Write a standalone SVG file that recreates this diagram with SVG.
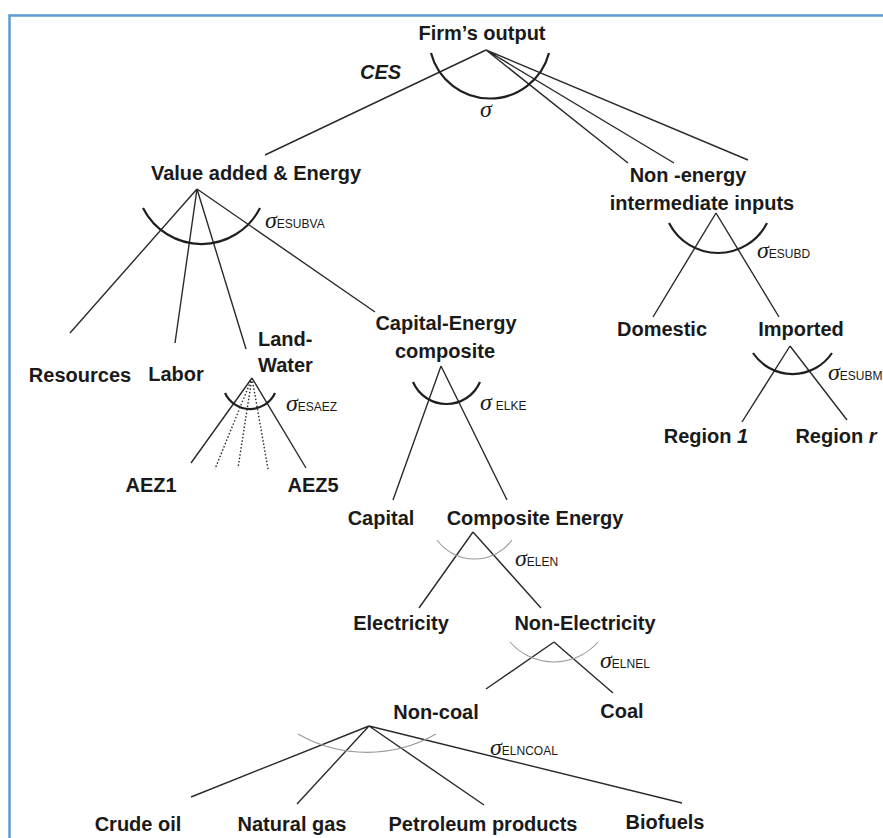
<svg xmlns="http://www.w3.org/2000/svg" width="883" height="838" viewBox="0 0 883 838">
<style>
.lbl{font-family:"Liberation Sans",Arial,sans-serif;font-weight:bold;font-size:20px;fill:#1a1a1a;text-anchor:middle}
.st{font-family:"Liberation Sans",Arial,sans-serif;font-weight:bold;font-size:20px;fill:#1a1a1a}
.sig{font-family:"Liberation Serif","DejaVu Serif",serif;font-style:italic;font-size:24px;fill:#1a1a1a}
.sub{font-family:"Liberation Sans",Arial,sans-serif;font-style:normal;font-size:12px}
.ln{stroke:#2a2a2a;stroke-width:1.4;fill:none}
.dot{stroke:#2a2a2a;stroke-width:1.4;fill:none;stroke-dasharray:1.5 2}
.arc{stroke:#1f1f1f;stroke-width:2.2;fill:none}
.arcg{stroke:#9a9a9a;stroke-width:1.1;fill:none}
</style>
<rect width="883" height="838" fill="#ffffff"/>
<path d="M9.5 838 V15.5 H883" stroke="#5b9bd5" stroke-width="2.5" fill="none"/>

<g id="connectors">
<path class="ln" d="M486 50 L265 155 M486 50 L628 163 M486 50 L674 163 M486 50 L748 160"/>
<path class="ln" d="M197 189 L70 333 M197 189 L175 343 M197 189 L246 349 M197 189 L375 312"/>
<path class="ln" d="M716 213 L653 317 M716 213 L779 317"/>
<path class="ln" d="M790 346 L742 422 M790 346 L847 420"/>
<path class="ln" d="M252 378 L191 463 M252 378 L306 468"/>
<path class="dot" d="M252 378 L215 469 M252 378 L238 468 M252 378 L268 469"/>
<path class="ln" d="M441 366 L393 500 M441 366 L507 500"/>
<path class="ln" d="M473 532 L419 608 M473 532 L541 608"/>
<path class="ln" d="M554 642 L486 689 M554 642 L613 693"/>
<path class="ln" d="M369 726 L191 797 M369 726 L297 804 M369 726 L484 805 M369 726 L682 803"/>
</g>

<g id="firm-output">
<text class="lbl" x="482" y="40">Firm’s output</text>
<text class="st" x="360" y="79" font-style="italic">CES</text>
<path class="arc" d="M431 53 A61 61 0 0 0 549 53"/>
<text class="sig" x="480" y="117">σ</text>
</g>

<g id="value-added-energy">
<text class="lbl" x="256" y="180">Value added &amp; Energy</text>
<path class="arc" d="M143 208 A65.5 65.5 0 0 0 260 208"/>
<text class="sig" x="265" y="228">σ<tspan class="sub">ESUBVA</tspan></text>
</g>

<g id="non-energy">
<text class="lbl" x="688" y="182">Non -energy</text>
<text class="lbl" x="702" y="210">intermediate inputs</text>
<path class="arc" d="M669 223 A55 55 0 0 0 767 223"/>
<text class="sig" x="757" y="258">σ<tspan class="sub">ESUBD</tspan></text>
</g>

<g id="resources"><text class="lbl" x="80" y="382">Resources</text></g>
<g id="labor"><text class="lbl" x="176" y="381">Labor</text></g>

<g id="land-water">
<text class="st" x="258" y="346">Land-</text>
<text class="st" x="258" y="372">Water</text>
<path class="arc" d="M225 393 A27.5 27.5 0 0 0 275 393"/>
<text class="sig" x="286" y="411">σ<tspan class="sub">ESAEZ</tspan></text>
</g>

<g id="aez1"><text class="lbl" x="151" y="492">AEZ1</text></g>
<g id="aez5"><text class="lbl" x="313" y="492">AEZ5</text></g>

<g id="capital-energy">
<text class="lbl" x="446" y="330">Capital-Energy</text>
<text class="lbl" x="445" y="358">composite</text>
<path class="arc" d="M413 382 A36.5 36.5 0 0 0 480 382"/>
<text class="sig" x="480" y="410">σ<tspan class="sub" dx="4">ELKE</tspan></text>
</g>

<g id="capital"><text class="lbl" x="381" y="525">Capital</text></g>

<g id="composite-energy">
<text class="lbl" x="535" y="525">Composite Energy</text>
<path class="arcg" d="M437 540 A46.5 46.5 0 0 0 512 540"/>
<text class="sig" x="515" y="566">σ<tspan class="sub">ELEN</tspan></text>
</g>

<g id="electricity"><text class="lbl" x="401" y="630">Electricity</text></g>

<g id="non-electricity">
<text class="lbl" x="585" y="630">Non-Electricity</text>
<path class="arcg" d="M510 642 A58.4 58.4 0 0 0 598 642"/>
<text class="sig" x="600" y="668">σ<tspan class="sub">ELNEL</tspan></text>
</g>

<g id="non-coal">
<text class="lbl" x="436" y="719">Non-coal</text>
<path class="arcg" d="M298 734 A139 139 0 0 0 436 734"/>
<text class="sig" x="490" y="755">σ<tspan class="sub">ELNCOAL</tspan></text>
</g>

<g id="coal"><text class="lbl" x="622" y="718">Coal</text></g>

<g id="domestic"><text class="lbl" x="662" y="336">Domestic</text></g>

<g id="imported">
<text class="lbl" x="801" y="336">Imported</text>
<path class="arc" d="M753 353 A47.6 47.6 0 0 0 832 353"/>
<text class="sig" x="828" y="380">σ<tspan class="sub">ESUBM</tspan></text>
</g>

<g id="region-1"><text class="lbl" x="706" y="443">Region <tspan font-style="italic">1</tspan></text></g>
<g id="region-r"><text class="lbl" x="836" y="443">Region <tspan font-style="italic">r</tspan></text></g>

<g id="crude-oil"><text class="lbl" x="138" y="831">Crude oil</text></g>
<g id="natural-gas"><text class="lbl" x="292" y="831">Natural gas</text></g>
<g id="petroleum-products"><text class="lbl" x="483" y="831">Petroleum products</text></g>
<g id="biofuels"><text class="lbl" x="665" y="829">Biofuels</text></g>
</svg>
